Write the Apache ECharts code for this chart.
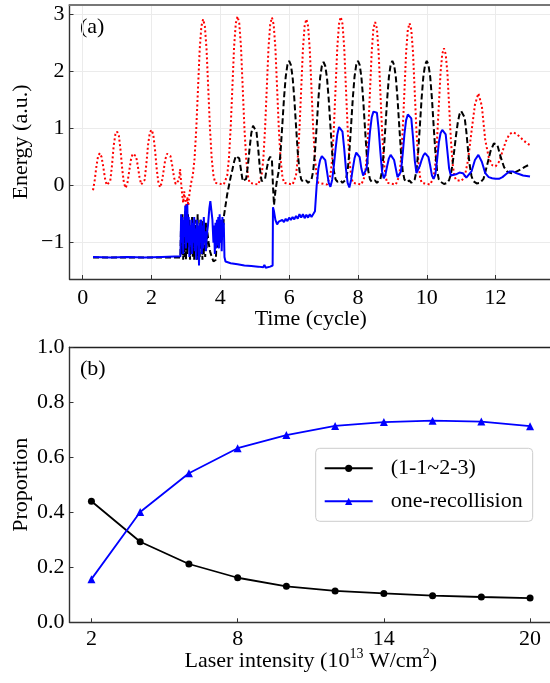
<!DOCTYPE html>
<html><head><meta charset="utf-8">
<script src="https://cdn.jsdelivr.net/npm/echarts@6/dist/echarts.min.js"></script>
<style>html,body{margin:0;padding:0;background:#fff;overflow:hidden}#c{width:550px;height:683px}</style>
</head><body><div id="c"></div>
<script>
// ---------- panel (a): energy vs time ----------
const xTicksTop = [0, 2, 4, 6, 8, 10, 12];
const yTicksTop = [-1, 0, 1, 2, 3];

const redTime = [
0.30,0.35,0.40,0.45,0.50,0.55,0.60,0.65,0.70,0.75,
0.80,0.85,0.90,0.95,1.00,1.05,1.10,1.15,1.20,1.25,
1.30,1.35,1.40,1.45,1.50,1.55,1.60,1.65,1.70,1.75,
1.80,1.85,1.90,1.95,2.00,2.05,2.10,2.15,2.20,2.25,
2.30,2.35,2.40,2.45,2.50,2.55,2.60,2.65,2.70,2.75,
2.80,2.83,2.86,2.89,2.92,2.95,2.98,3.01,3.04,3.07,3.10,
3.15,3.20,3.25,3.30,3.35,3.40,3.45,3.50,3.55,3.60,3.65,3.70,3.75,3.80,3.85,3.90,
4.10,4.15,4.20,4.25,4.30,4.35,4.40,4.45,4.50,4.55,4.60,4.65,4.70,4.75,4.80,4.85,4.90,
5.10,5.15,5.20,5.25,5.30,5.35,5.40,5.45,5.50,5.55,5.60,5.65,5.70,5.75,5.80,5.85,5.90,
6.10,6.15,6.20,6.25,6.30,6.35,6.40,6.45,6.50,6.55,6.60,6.65,6.70,6.75,6.80,6.85,6.90,
7.10,7.15,7.20,7.25,7.30,7.35,7.40,7.45,7.50,7.55,7.60,7.65,7.70,7.75,7.80,7.85,7.90,
8.10,8.15,8.20,8.25,8.30,8.35,8.40,8.45,8.50,8.55,8.60,8.65,8.70,8.75,8.80,8.85,8.90,
9.10,9.15,9.20,9.25,9.30,9.35,9.40,9.45,9.50,9.55,9.60,9.65,9.70,9.75,9.80,9.85,9.90,
10.10,10.15,10.20,10.25,10.30,10.35,10.40,10.45,10.50,10.55,10.60,10.65,10.70,10.75,10.80,10.85,10.90,
11.0,11.1,11.2,11.3,11.4,11.5,11.6,11.7,11.8,11.9,12.0,12.1,12.2,12.3,12.4,12.5,12.6,12.7,12.8,12.9,13.0];
const redEnergy = [
-0.08,0.10,0.35,0.53,0.57,0.50,0.32,0.12,0.01,0.00,
0.08,0.35,0.70,0.90,0.95,0.88,0.62,0.28,0.04,-0.04,
0.05,0.25,0.45,0.56,0.57,0.52,0.35,0.15,0.02,0.00,
0.10,0.38,0.72,0.93,0.98,0.90,0.64,0.30,0.05,-0.03,
0.06,0.26,0.46,0.56,0.57,0.52,0.36,0.16,0.03,0.00,
0.10,0.29,0.05,-0.15,-0.30,-0.10,-0.25,-0.38,-0.20,-0.35,-0.15,
0.05,0.18,0.47,0.99,1.69,2.39,2.80,2.92,2.80,2.39,1.69,0.99,0.47,0.18,0.05,0.02,
0.02,0.05,0.18,0.48,1.01,1.72,2.44,2.85,2.97,2.85,2.44,1.72,1.01,0.48,0.18,0.05,0.02,
0.02,0.05,0.18,0.47,1.00,1.71,2.42,2.83,2.95,2.83,2.42,1.71,1.00,0.47,0.18,0.05,0.02,
0.02,0.05,0.18,0.47,0.99,1.69,2.39,2.80,2.92,2.80,2.39,1.69,0.99,0.47,0.18,0.05,0.02,
0.02,0.05,0.18,0.47,1.01,1.72,2.43,2.84,2.96,2.84,2.43,1.72,1.01,0.47,0.18,0.05,0.02,
0.02,0.05,0.17,0.46,0.98,1.66,2.35,2.76,2.87,2.76,2.35,1.66,0.98,0.46,0.17,0.05,0.02,
0.02,0.05,0.17,0.46,0.97,1.65,2.34,2.74,2.85,2.74,2.34,1.65,0.97,0.46,0.17,0.05,0.02,
0.02,0.05,0.15,0.39,0.82,1.40,1.98,2.31,2.41,2.31,1.98,1.40,0.82,0.39,0.17,0.10,0.08,
0.08,0.15,0.45,0.95,1.42,1.62,1.40,0.80,0.50,0.36,0.34,0.42,0.60,0.78,0.90,0.94,0.91,0.86,0.80,0.75,0.71];

const blackTime = [
0.30,2.84,
2.86,2.88,2.90,2.92,2.94,2.96,2.98,3.00,3.02,3.04,3.06,3.08,3.10,3.12,3.14,3.16,3.18,3.20,3.22,3.24,
3.26,3.28,3.30,3.32,3.34,3.36,3.38,3.40,3.42,3.44,3.46,3.48,3.50,3.52,3.54,3.56,3.58,3.60,3.62,
3.66,3.70,3.75,3.80,3.84,3.87,3.90,3.92,3.94,3.96,3.98,4.00,4.02,4.04,4.06,4.08,4.10,
4.15,4.20,4.25,4.30,4.35,4.40,4.45,4.50,4.55,4.60,4.65,4.70,4.75,4.80,4.85,4.90,4.95,5.00,5.05,5.10,5.15,5.20,5.25,5.30,5.35,5.40,5.45,5.50,
5.53,5.56,5.60,5.65,5.70,5.75,5.80,5.85,5.90,5.95,6.00,6.05,6.10,6.15,6.20,6.25,6.30,6.35,6.40,6.45,6.50,6.55,
6.60,6.65,6.70,6.75,6.80,6.85,6.90,6.95,7.00,7.05,7.10,7.15,7.20,7.25,7.30,7.35,7.40,7.45,7.50,7.55,
7.60,7.65,7.70,7.75,7.80,7.85,7.90,7.95,8.00,8.05,8.10,8.15,8.20,8.25,8.30,8.35,8.40,8.45,8.50,8.55,
8.60,8.65,8.70,8.75,8.80,8.85,8.90,8.95,9.00,9.05,9.10,9.15,9.20,9.25,9.30,9.35,9.40,9.45,9.50,9.55,
9.60,9.65,9.70,9.75,9.80,9.85,9.90,9.95,10.00,10.05,10.10,10.15,10.20,10.25,10.30,10.35,10.40,
10.50,10.60,10.65,10.70,10.75,10.80,10.85,10.90,10.95,11.00,11.05,11.10,11.15,11.20,11.25,11.30,11.35,11.45,11.55,11.65,11.75,11.85,11.95,12.00,12.05,12.15,12.25,12.35,12.45,12.55,12.65,12.75,12.85,12.95,13.00];
const blackEnergy = [
-1.26,-1.26,
-0.60,-1.20,-0.50,-1.30,-0.70,-1.25,-0.45,-1.30,-0.80,-1.20,-0.50,-1.10,-0.60,-1.30,-0.70,-1.20,-0.55,-1.25,-0.80,-1.30,
-0.60,-1.15,-0.70,-1.30,-0.50,-1.20,-0.75,-1.25,-0.60,-1.10,-0.80,-1.30,-0.60,-1.20,-0.70,-1.25,-0.65,-1.10,-0.80,
-1.00,-1.15,-1.25,-1.33,-1.36,-1.30,-0.80,-1.10,-0.70,-1.05,-0.75,-1.00,-0.70,-0.95,-0.65,-0.80,-0.55,
-0.35,-0.15,0.00,0.15,0.28,0.42,0.52,0.54,0.48,0.28,0.08,0.05,0.12,0.35,0.65,0.92,1.05,1.07,0.95,0.65,0.30,0.08,0.05,0.12,0.30,0.45,0.51,0.45,
0.00,-0.34,-0.10,0.11,0.26,0.59,1.05,1.53,1.91,2.12,2.19,2.12,1.91,1.53,1.05,0.59,0.26,0.11,0.07,0.05,0.09,0.05,
0.07,0.11,0.26,0.59,1.04,1.52,1.89,2.10,2.17,2.10,1.89,1.52,1.04,0.59,0.26,0.11,0.07,0.05,0.09,0.05,
0.07,0.11,0.26,0.59,1.05,1.53,1.91,2.12,2.19,2.12,1.91,1.53,1.05,0.59,0.26,0.11,0.07,0.05,0.09,0.05,
0.07,0.11,0.26,0.59,1.05,1.53,1.91,2.12,2.19,2.12,1.91,1.53,1.05,0.59,0.26,0.11,0.07,0.05,0.09,0.05,
0.07,0.11,0.26,0.59,1.05,1.53,1.91,2.12,2.19,2.12,1.91,1.53,1.05,0.59,0.26,0.11,0.07,
0.03,0.05,0.10,0.20,0.38,0.62,0.88,1.10,1.25,1.31,1.30,1.20,0.95,0.62,0.35,0.17,0.08,0.04,0.05,0.12,0.35,0.60,0.74,0.75,0.72,0.50,0.32,0.24,0.22,0.23,0.26,0.29,0.33,0.36,0.37];

const blueTime = [
0.30,0.80,1.30,1.80,2.30,2.84,
2.86,2.88,2.90,2.92,2.94,2.96,2.98,3.00,3.02,3.04,3.06,3.08,3.10,3.12,3.14,3.16,3.18,3.20,3.22,3.24,
3.26,3.28,3.30,3.32,3.34,3.36,3.38,3.40,3.42,3.44,3.46,3.48,3.50,3.52,3.54,3.56,3.58,3.60,
3.64,3.68,3.71,3.74,3.77,3.80,3.82,3.84,3.86,3.88,3.90,3.92,3.94,3.96,3.98,4.00,4.02,4.04,4.06,4.08,4.10,
4.12,4.15,4.30,4.50,4.70,4.90,5.10,5.25,5.28,5.32,5.45,5.52,
5.53,5.56,5.60,5.65,5.70,5.75,5.80,5.85,5.90,5.95,6.00,6.05,6.10,6.15,6.20,6.25,6.30,6.35,6.40,6.45,6.50,6.55,6.60,6.65,6.70,6.75,
6.80,6.85,6.90,6.95,7.00,7.05,7.10,7.15,7.20,7.25,7.30,7.35,7.40,7.45,7.50,7.55,7.60,7.65,7.70,7.75,7.80,7.85,7.90,7.95,8.00,
8.05,8.10,8.15,8.20,8.25,8.30,8.35,8.40,8.45,8.50,8.55,8.60,8.65,8.70,8.75,8.80,8.85,8.90,8.95,9.00,
9.05,9.10,9.15,9.20,9.25,9.30,9.35,9.40,9.45,9.50,9.55,9.60,9.65,9.70,9.75,9.80,9.85,9.90,9.95,10.00,
10.05,10.10,10.15,10.20,10.25,10.30,10.35,10.40,10.45,10.50,10.55,10.60,10.65,10.70,10.75,10.85,10.95,
11.05,11.15,11.20,11.30,11.40,11.50,11.60,11.70,11.80,11.90,12.00,12.10,12.20,12.30,12.40,12.50,12.60,12.70,12.80,12.90,13.00];
const blueEnergy = [
-1.25,-1.26,-1.25,-1.26,-1.25,-1.24,
-0.50,-1.00,-0.55,-1.20,-0.60,-0.90,-0.35,-1.10,-0.60,-0.32,-1.00,-0.55,-1.25,-0.70,-1.05,-0.60,-1.20,-0.65,-1.00,-0.55,
-1.15,-0.75,-1.30,-0.60,-1.05,-0.70,-1.40,-0.65,-1.00,-0.60,-1.20,-0.70,-1.10,-0.55,-1.00,-0.80,-1.15,-0.90,
-0.70,-0.40,-0.27,-0.30,-0.60,-1.00,-0.70,-1.20,-0.65,-1.10,-0.60,-1.05,-0.55,-1.10,-0.50,-1.00,-0.60,-1.15,-0.55,-0.90,-0.65,
-1.25,-1.33,-1.36,-1.38,-1.40,-1.41,-1.42,-1.43,-1.39,-1.44,-1.42,-1.40,
-0.38,-0.45,-0.60,-0.68,-0.63,-0.66,-0.60,-0.64,-0.58,-0.62,-0.56,-0.60,-0.55,-0.59,-0.53,-0.58,-0.50,-0.56,-0.50,-0.57,-0.51,-0.56,-0.50,-0.55,-0.52,-0.45,
0.00,0.30,0.45,0.52,0.54,0.45,0.25,0.05,-0.02,0.10,0.35,0.65,0.90,1.03,1.06,0.95,0.65,0.30,0.05,-0.03,0.10,0.30,0.48,0.58,0.60,
0.50,0.30,0.18,0.16,0.30,0.60,0.95,1.20,1.30,1.31,1.28,1.00,0.60,0.25,0.13,0.20,0.35,0.48,0.54,0.54,
0.45,0.30,0.15,0.12,0.25,0.55,0.90,1.15,1.25,1.26,1.18,0.85,0.45,0.22,0.25,0.35,0.45,0.53,0.57,0.57,
0.50,0.35,0.18,0.12,0.20,0.45,0.75,0.92,0.98,0.99,0.90,0.60,0.30,0.18,0.16,0.20,0.23,
0.22,0.14,0.13,0.25,0.45,0.54,0.42,0.22,0.15,0.13,0.12,0.12,0.15,0.20,0.25,0.25,0.22,0.20,0.18,0.17,0.16];

// ---------- panel (b): proportion vs laser intensity ----------
const intensity = [2, 4, 6, 8, 10, 12, 14, 16, 18, 20];
const xTicksBottom = [2, 8, 14, 20];
const propChannel = [0.440, 0.293, 0.212, 0.162, 0.131, 0.114, 0.105, 0.097, 0.092, 0.088];
const propOneRecollision = [0.157, 0.401, 0.542, 0.633, 0.681, 0.714, 0.728, 0.733, 0.730, 0.713];

function pairs(xs, ys) {
  if (xs.length !== ys.length) throw new Error('length mismatch ' + xs.length + ' vs ' + ys.length);
  return xs.map((x, i) => [x, ys[i]]);
}

const FONT = "'Liberation Serif','Times New Roman',serif";
const minusFmt = v => (v < 0 ? '\u2212' + Math.abs(v) : String(v));
const tickFont = () => ({ fontFamily: FONT, fontSize: 22, color: '#000' });
const mainLine = () => ({ show: true, onZero: false, lineStyle: { color: '#333', width: 1.4 } });

const TOP_MIN = -0.384, TOP_MAX = 13.64;
const BOT_MIN = 1.1, BOT_MAX = 20.9;

const chart = echarts.init(document.getElementById('c'), null, { renderer: 'canvas' });
chart.setOption({
  animation: false,
  grid: [
    { left: 69.5, top: 5, right: -2, bottom: 404, outerBoundsMode: 'none' },
    { left: 69.5, top: 347.3, right: -2, bottom: 60.7, outerBoundsMode: 'none' }
  ],
  xAxis: [
    { type: 'value', gridIndex: 0, min: TOP_MIN, max: TOP_MAX,
      axisLine: mainLine(),
      axisTick: { show: true, inside: true, length: 4, customValues: xTicksTop, lineStyle: { color: '#333' } },
      axisLabel: Object.assign({ customValues: xTicksTop, margin: 8 }, tickFont()),
      splitLine: { show: true, lineStyle: { color: '#ebebeb', width: 1 } },
      name: 'Time (cycle)', nameLocation: 'middle', nameGap: 29, nameMoveOverlap: false,
      nameTextStyle: { fontFamily: FONT, fontSize: 22, color: '#000' } },
    { type: 'value', gridIndex: 1, min: BOT_MIN, max: BOT_MAX,
      axisLine: mainLine(),
      axisTick: { show: true, inside: true, length: 4, customValues: xTicksBottom, lineStyle: { color: '#333' } },
      axisLabel: Object.assign({ customValues: xTicksBottom, margin: 6 }, tickFont()),
      splitLine: { show: false },
      name: 'Laser intensity (10{sup|13} W/cm{sup|2})', nameLocation: 'middle', nameGap: 25, nameMoveOverlap: false,
      nameTextStyle: { fontFamily: FONT, fontSize: 22, color: '#000', lineHeight: 28,
        rich: { sup: { fontFamily: FONT, fontSize: 14, color: '#000', lineHeight: 14, verticalAlign: 'top' } } } },
    { type: 'value', gridIndex: 0, position: 'top', min: TOP_MIN, max: TOP_MAX,
      axisLine: { show: true, onZero: false, lineStyle: { color: '#777', width: 2 } },
      axisTick: { show: false }, axisLabel: { show: false }, splitLine: { show: false } },
    { type: 'value', gridIndex: 1, position: 'top', min: BOT_MIN, max: BOT_MAX,
      axisLine: { show: true, onZero: false, lineStyle: { color: '#222', width: 1.3 } },
      axisTick: { show: false }, axisLabel: { show: false }, splitLine: { show: false } }
  ],
  yAxis: [
    { type: 'value', gridIndex: 0, min: -1.637, max: 3.17,
      axisLine: mainLine(),
      axisTick: { show: true, inside: true, length: 4, customValues: yTicksTop, lineStyle: { color: '#333' } },
      axisLabel: Object.assign({ customValues: yTicksTop, margin: 5, formatter: minusFmt }, tickFont()),
      splitLine: { show: true, lineStyle: { color: '#ebebeb', width: 1 } },
      name: 'Energy (a.u.)', nameLocation: 'middle', nameGap: 37, nameMoveOverlap: false,
      nameTextStyle: { fontFamily: FONT, fontSize: 22, color: '#000' } },
    { type: 'value', gridIndex: 1, min: 0, max: 1, interval: 0.2,
      axisLine: mainLine(),
      axisTick: { show: true, inside: true, length: 4, lineStyle: { color: '#333' } },
      axisLabel: Object.assign({ margin: 5, formatter: v => v.toFixed(1) }, tickFont()),
      splitLine: { show: false },
      name: 'Proportion', nameLocation: 'middle', nameGap: 37, nameMoveOverlap: false,
      nameTextStyle: { fontFamily: FONT, fontSize: 22, color: '#000' } }
  ],
  legend: {
    data: ['(1-1~2-3)', 'one-recollision'],
    orient: 'vertical', left: 315.7, top: 448.3,
    padding: [8, 10, 8, 8], itemGap: 9, itemWidth: 48, itemHeight: 9,
    backgroundColor: 'rgba(255,255,255,0.85)', borderColor: '#cccccc', borderWidth: 1, borderRadius: 4,
    textStyle: { fontFamily: FONT, fontSize: 22, color: '#000', lineHeight: 24, padding: [0, 0, 0, 13] }
  },
  graphic: [
    { type: 'text', left: 80, top: 16, style: { text: '(a)', font: '22px ' + FONT, fill: '#000' } },
    { type: 'text', left: 80, top: 358, style: { text: '(b)', font: '22px ' + FONT, fill: '#000' } }
  ],
  series: [
    { name: 'red', type: 'line', xAxisIndex: 0, yAxisIndex: 0, data: pairs(redTime, redEnergy),
      symbol: 'none', lineStyle: { color: '#ff0000', width: 2, type: [2, 2.5] }, z: 2 },
    { name: 'black', type: 'line', xAxisIndex: 0, yAxisIndex: 0, data: pairs(blackTime, blackEnergy),
      symbol: 'none', lineStyle: { color: '#000000', width: 2, type: [6, 3] }, z: 3 },
    { name: 'blue', type: 'line', xAxisIndex: 0, yAxisIndex: 0, data: pairs(blueTime, blueEnergy),
      symbol: 'none', lineStyle: { color: '#0000ff', width: 2 }, z: 4 },
    { name: '(1-1~2-3)', type: 'line', xAxisIndex: 1, yAxisIndex: 1, data: pairs(intensity, propChannel),
      symbol: 'circle', symbolSize: 7, itemStyle: { color: '#000' }, lineStyle: { color: '#000', width: 1.8 } },
    { name: 'one-recollision', type: 'line', xAxisIndex: 1, yAxisIndex: 1, data: pairs(intensity, propOneRecollision),
      symbol: 'triangle', symbolSize: 8, itemStyle: { color: '#0000ff' }, lineStyle: { color: '#0000ff', width: 1.8 } }
  ]
});
</script>
</body></html>
